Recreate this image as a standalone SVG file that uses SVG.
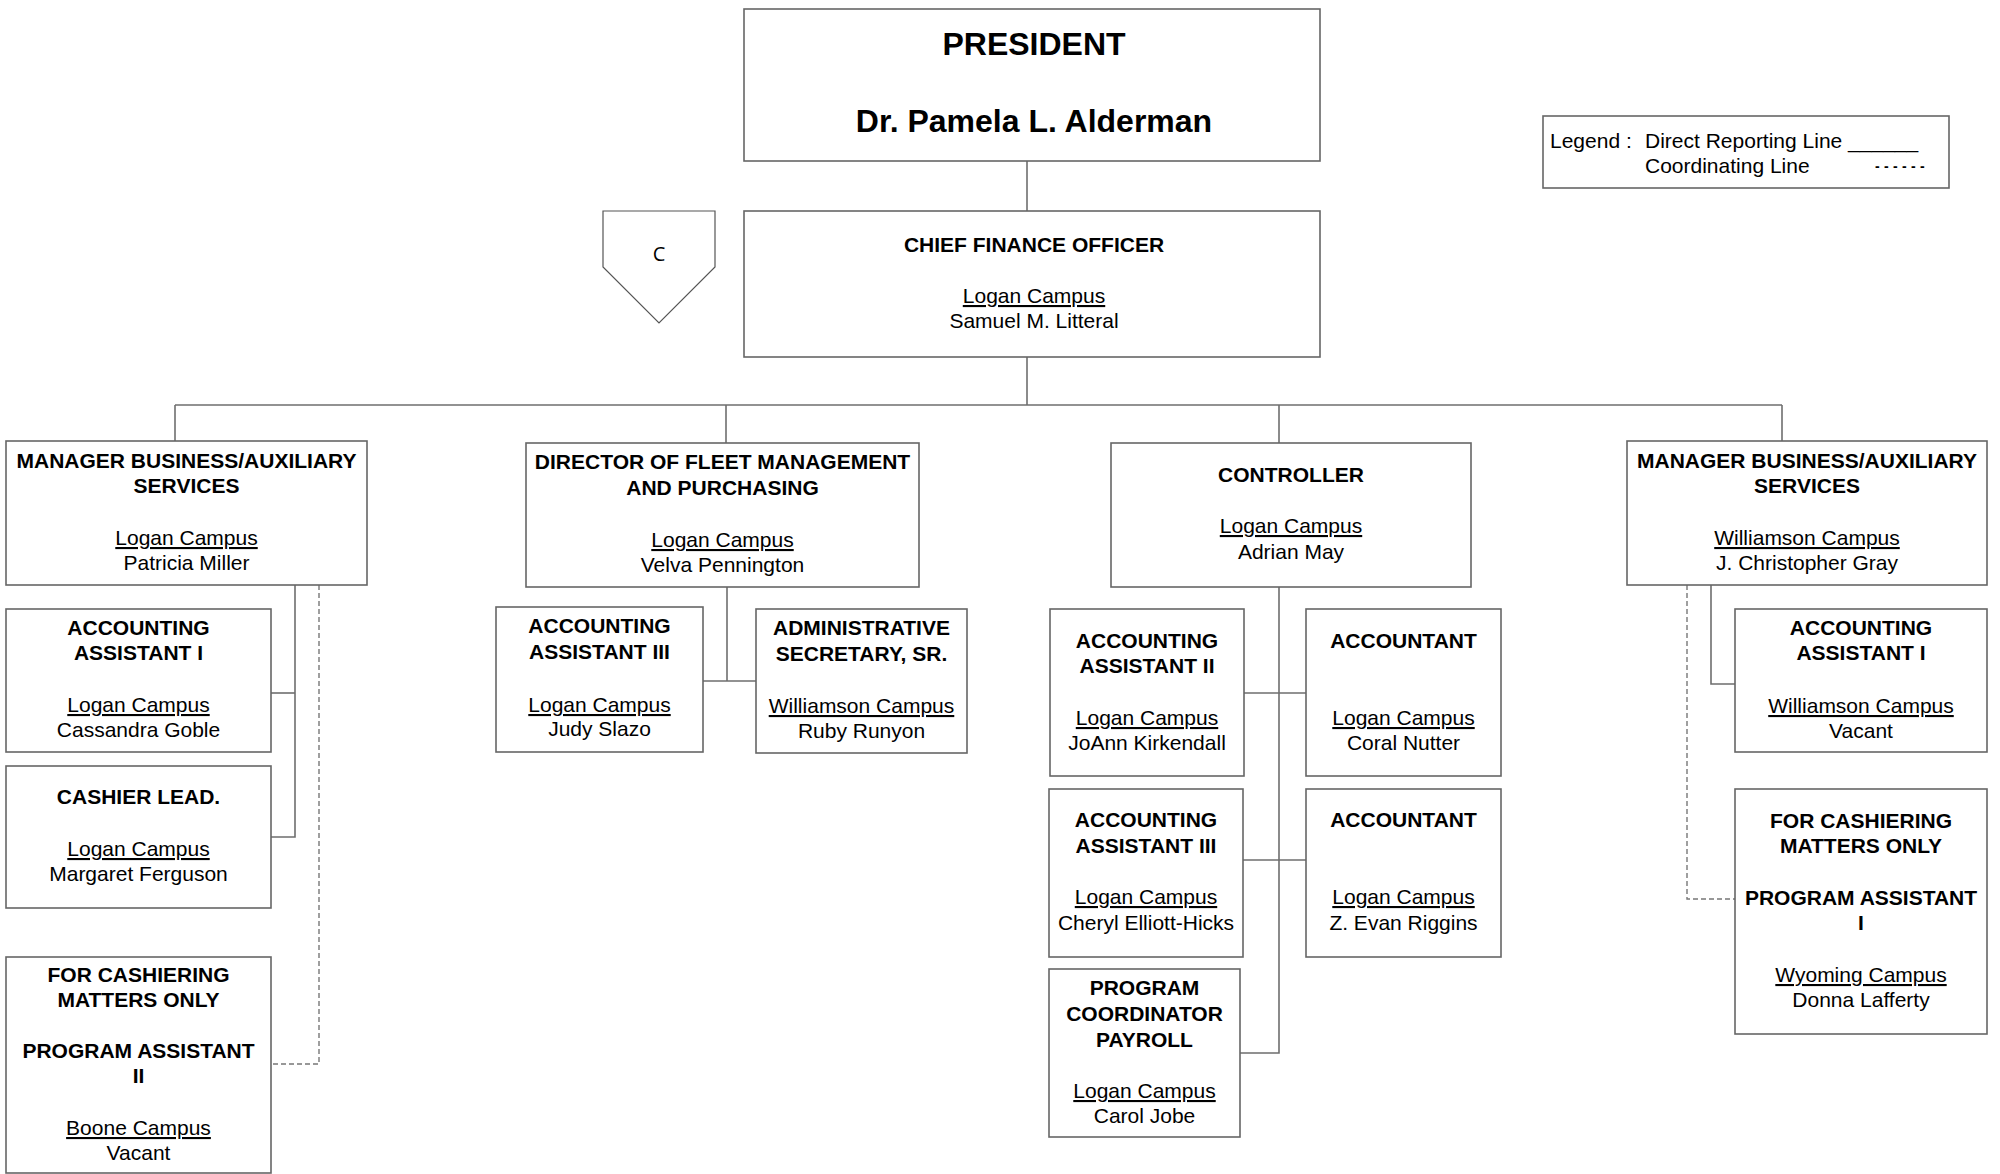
<svg xmlns="http://www.w3.org/2000/svg" width="2000" height="1174" viewBox="0 0 2000 1174">
<style>
  .box { fill: #ffffff; stroke: #666666; stroke-width: 1.6; }
  .ln { fill: none; stroke: #6e6e6e; stroke-width: 1.6; }
  .dash { fill: none; stroke: #777777; stroke-width: 1.4; stroke-dasharray: 5 3; }
  text { font-family: "Liberation Sans", Arial, sans-serif; fill: #000000; text-anchor: middle; }
  .b { font-size: 21px; font-weight: bold; }
  .r { font-size: 21px; }
  .u { font-size: 21px; text-decoration: underline; }
  .big { font-size: 32px; font-weight: bold; }
  .lg { font-size: 21px; text-anchor: start; }
</style>
<rect width="2000" height="1174" fill="#ffffff"/>

<g id="connectors">
  <line class="ln" x1="1027" y1="161" x2="1027" y2="211"/>
  <line class="ln" x1="1027" y1="357" x2="1027" y2="405"/>
  <line class="ln" x1="175" y1="405" x2="1782" y2="405"/>
  <line class="ln" x1="175" y1="405" x2="175" y2="441"/>
  <line class="ln" x1="726" y1="405" x2="726" y2="443"/>
  <line class="ln" x1="1279" y1="405" x2="1279" y2="443"/>
  <line class="ln" x1="1782" y1="405" x2="1782" y2="441"/>
  <!-- left manager -->
  <polyline class="ln" points="295,585 295,837 271,837"/>
  <line class="ln" x1="271" y1="693" x2="295" y2="693"/>
  <polyline class="dash" points="319,585 319,1064 271,1064"/>
  <!-- fleet -->
  <line class="ln" x1="727" y1="587" x2="727" y2="681"/>
  <line class="ln" x1="703" y1="681" x2="756" y2="681"/>
  <!-- controller -->
  <polyline class="ln" points="1279,587 1279,1053 1240,1053"/>
  <line class="ln" x1="1244" y1="693" x2="1306" y2="693"/>
  <line class="ln" x1="1243" y1="860" x2="1306" y2="860"/>
  <!-- right manager -->
  <polyline class="ln" points="1711,585 1711,684 1735,684"/>
  <polyline class="dash" points="1687,585 1687,899 1735,899"/>
</g>

<g id="president">
  <rect class="box" x="744" y="9" width="576" height="152"/>
  <text class="big" x="1034" y="55">PRESIDENT</text>
  <text class="big" x="1034" y="132">Dr. Pamela L. Alderman</text>
</g>

<g id="legend">
  <rect class="box" x="1543" y="116" width="406" height="72"/>
  <text class="lg" x="1550" y="148">Legend :</text>
  <text class="lg" x="1645" y="148">Direct Reporting Line ______</text>
  <text class="lg" x="1645" y="173">Coordinating Line</text>
  <text x="1875 1884 1893 1902 1911 1920" y="171" font-weight="bold" font-size="14" style="text-anchor:start">------</text>
</g>

<g id="connector-c">
  <polygon points="603,211 715,211 715,267 659,323 603,267" fill="#ffffff" stroke="#555555" stroke-width="1.2"/>
  <text x="659" y="261" style="font-family: 'Open Sans', 'DejaVu Sans', sans-serif; font-size: 20px;">C</text>
</g>

<g id="cfo">
  <rect class="box" x="744" y="211" width="576" height="146"/>
  <text class="b" x="1034" y="252">CHIEF FINANCE OFFICER</text>
  <text class="u" x="1034" y="303">Logan Campus</text>
  <text class="r" x="1034" y="328">Samuel M. Litteral</text>
</g>

<g id="mgr-logan">
  <rect class="box" x="6" y="441" width="361" height="144"/>
  <text class="b" x="186.5" y="468">MANAGER BUSINESS/AUXILIARY</text>
  <text class="b" x="186.5" y="493">SERVICES</text>
  <text class="u" x="186.5" y="545">Logan Campus</text>
  <text class="r" x="186.5" y="570">Patricia Miller</text>
</g>

<g id="director-fleet">
  <rect class="box" x="526" y="443" width="393" height="144"/>
  <text class="b" x="722.5" y="469">DIRECTOR OF FLEET MANAGEMENT</text>
  <text class="b" x="722.5" y="495">AND PURCHASING</text>
  <text class="u" x="722.5" y="547">Logan Campus</text>
  <text class="r" x="722.5" y="572">Velva Pennington</text>
</g>

<g id="controller">
  <rect class="box" x="1111" y="443" width="360" height="144"/>
  <text class="b" x="1291" y="482">CONTROLLER</text>
  <text class="u" x="1291" y="533">Logan Campus</text>
  <text class="r" x="1291" y="559">Adrian May</text>
</g>

<g id="mgr-williamson">
  <rect class="box" x="1627" y="441" width="360" height="144"/>
  <text class="b" x="1807" y="468">MANAGER BUSINESS/AUXILIARY</text>
  <text class="b" x="1807" y="493">SERVICES</text>
  <text class="u" x="1807" y="545">Williamson Campus</text>
  <text class="r" x="1807" y="570">J. Christopher Gray</text>
</g>

<g id="acc-asst-i-logan">
  <rect class="box" x="6" y="609" width="265" height="143"/>
  <text class="b" x="138.5" y="635">ACCOUNTING</text>
  <text class="b" x="138.5" y="660">ASSISTANT I</text>
  <text class="u" x="138.5" y="712">Logan Campus</text>
  <text class="r" x="138.5" y="737">Cassandra Goble</text>
</g>

<g id="cashier-lead">
  <rect class="box" x="6" y="766" width="265" height="142"/>
  <text class="b" x="138.5" y="804">CASHIER LEAD.</text>
  <text class="u" x="138.5" y="856">Logan Campus</text>
  <text class="r" x="138.5" y="881">Margaret Ferguson</text>
</g>

<g id="program-asst-ii">
  <rect class="box" x="6" y="957" width="265" height="216"/>
  <text class="b" x="138.5" y="982">FOR CASHIERING</text>
  <text class="b" x="138.5" y="1007">MATTERS ONLY</text>
  <text class="b" x="138.5" y="1058">PROGRAM ASSISTANT</text>
  <text class="b" x="138.5" y="1083">II</text>
  <text class="u" x="138.5" y="1135">Boone Campus</text>
  <text class="r" x="138.5" y="1160">Vacant</text>
</g>

<g id="acc-asst-iii-fleet">
  <rect class="box" x="496" y="607" width="207" height="145"/>
  <text class="b" x="599.5" y="633">ACCOUNTING</text>
  <text class="b" x="599.5" y="659">ASSISTANT III</text>
  <text class="u" x="599.5" y="712">Logan Campus</text>
  <text class="r" x="599.5" y="736">Judy Slazo</text>
</g>

<g id="admin-secretary">
  <rect class="box" x="756" y="609" width="211" height="144"/>
  <text class="b" x="861.5" y="635">ADMINISTRATIVE</text>
  <text class="b" x="861.5" y="661">SECRETARY, SR.</text>
  <text class="u" x="861.5" y="713">Williamson Campus</text>
  <text class="r" x="861.5" y="738">Ruby Runyon</text>
</g>

<g id="acc-asst-ii">
  <rect class="box" x="1050" y="609" width="194" height="167"/>
  <text class="b" x="1147" y="648">ACCOUNTING</text>
  <text class="b" x="1147" y="673">ASSISTANT II</text>
  <text class="u" x="1147" y="725">Logan Campus</text>
  <text class="r" x="1147" y="750">JoAnn Kirkendall</text>
</g>

<g id="accountant-nutter">
  <rect class="box" x="1306" y="609" width="195" height="167"/>
  <text class="b" x="1403.5" y="648">ACCOUNTANT</text>
  <text class="u" x="1403.5" y="725">Logan Campus</text>
  <text class="r" x="1403.5" y="750">Coral Nutter</text>
</g>

<g id="acc-asst-iii-ctrl">
  <rect class="box" x="1049" y="789" width="194" height="168"/>
  <text class="b" x="1146" y="827">ACCOUNTING</text>
  <text class="b" x="1146" y="853">ASSISTANT III</text>
  <text class="u" x="1146" y="904">Logan Campus</text>
  <text class="r" x="1146" y="930">Cheryl Elliott-Hicks</text>
</g>

<g id="accountant-riggins">
  <rect class="box" x="1306" y="789" width="195" height="168"/>
  <text class="b" x="1403.5" y="827">ACCOUNTANT</text>
  <text class="u" x="1403.5" y="904">Logan Campus</text>
  <text class="r" x="1403.5" y="930">Z. Evan Riggins</text>
</g>

<g id="program-coordinator">
  <rect class="box" x="1049" y="969" width="191" height="168"/>
  <text class="b" x="1144.5" y="995">PROGRAM</text>
  <text class="b" x="1144.5" y="1021">COORDINATOR</text>
  <text class="b" x="1144.5" y="1047">PAYROLL</text>
  <text class="u" x="1144.5" y="1098">Logan Campus</text>
  <text class="r" x="1144.5" y="1123">Carol Jobe</text>
</g>

<g id="acc-asst-i-williamson">
  <rect class="box" x="1735" y="609" width="252" height="143"/>
  <text class="b" x="1861" y="635">ACCOUNTING</text>
  <text class="b" x="1861" y="660">ASSISTANT I</text>
  <text class="u" x="1861" y="713">Williamson Campus</text>
  <text class="r" x="1861" y="738">Vacant</text>
</g>

<g id="program-asst-i">
  <rect class="box" x="1735" y="789" width="252" height="245"/>
  <text class="b" x="1861" y="828">FOR CASHIERING</text>
  <text class="b" x="1861" y="853">MATTERS ONLY</text>
  <text class="b" x="1861" y="905">PROGRAM ASSISTANT</text>
  <text class="b" x="1861" y="930">I</text>
  <text class="u" x="1861" y="982">Wyoming Campus</text>
  <text class="r" x="1861" y="1007">Donna Lafferty</text>
</g>
</svg>
